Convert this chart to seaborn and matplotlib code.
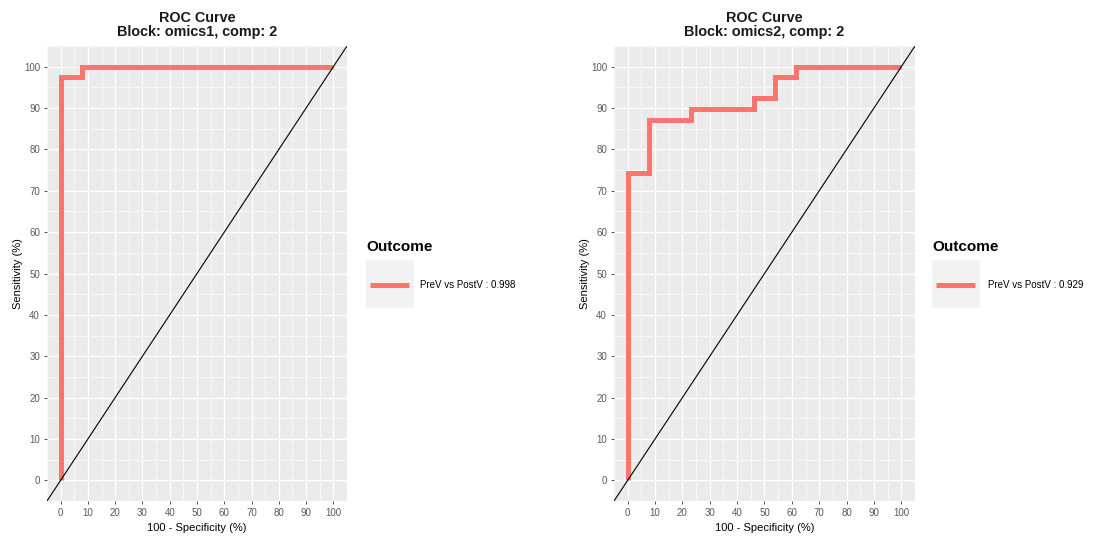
import numpy as np
import pandas as pd
import matplotlib
matplotlib.use("Agg")
import matplotlib.pyplot as plt
import seaborn as sns
from matplotlib.patches import Rectangle
from matplotlib.lines import Line2D
from matplotlib.ticker import MultipleLocator

# ROC corner points (100 - specificity, sensitivity)
fpr_omics1 = [0, 0, 7.69, 7.69, 100]
tpr_omics1 = [0, 97.44, 97.44, 100, 100]
fpr_omics2 = [0, 0, 7.69, 7.69, 23.08, 23.08, 46.15, 46.15, 53.85, 53.85, 61.54, 61.54, 100]
tpr_omics2 = [0, 74.36, 74.36, 87.18, 87.18, 89.74, 89.74, 92.31, 92.31, 97.44, 97.44, 100, 100]
blocks = ["omics1", "omics2"]
legend_labels = ["PreV vs PostV : 0.998", "PreV vs PostV : 0.929"]
ticks = list(range(0, 101, 10))

sns.set_theme(style="darkgrid")
plt.rcParams['font.family'] = ['Liberation Sans', 'DejaVu Sans']

W, H = 1099, 539
fig = plt.figure(figsize=(W / 100, H / 100), dpi=100)
fig.patch.set_facecolor("white")

RED = "#F8766D"
panels = [
    dict(left=47, right=347, fpr=fpr_omics1, tpr=tpr_omics1, block=blocks[0], lab=legend_labels[0],
         box_x=366, text_x=420),
    dict(left=614, right=915, fpr=fpr_omics2, tpr=tpr_omics2, block=blocks[1], lab=legend_labels[1],
         box_x=932, text_x=988),
]
top_px, bot_px = 46, 501

for p in panels:
    ax = fig.add_axes([p["left"] / W, (H - bot_px) / H, (p["right"] - p["left"]) / W, (bot_px - top_px) / H])
    ax.set_facecolor("#EBEBEB")
    df = pd.DataFrame({"fpr": p["fpr"], "tpr": p["tpr"]})
    sns.lineplot(data=df, x="fpr", y="tpr", sort=False, estimator=None, color=RED, lw=3.6, ax=ax,
                 solid_capstyle="butt", solid_joinstyle="miter", zorder=3)
    ax.axline((0, 0), slope=1, color="black", lw=0.8, zorder=4)
    ax.set_xlim(-5, 105)
    ax.set_ylim(-5, 105)
    ax.set_xticks(ticks)
    ax.set_yticks(ticks)
    ax.xaxis.set_minor_locator(MultipleLocator(5))
    ax.yaxis.set_minor_locator(MultipleLocator(5))
    ax.grid(which="major", color="white", lw=0.9)
    ax.grid(which="minor", color="white", lw=0.45)
    ax.set_axisbelow(True)
    for s in ax.spines.values():
        s.set_visible(False)
    ax.tick_params(which="major", length=2.5, width=0.6, color="#333333", labelsize=7,
                   labelcolor="#5A5A5A", pad=2.5, bottom=True, left=True)
    ax.tick_params(which="minor", length=0)
    ax.set_xlabel("100 - Specificity (%)", fontsize=8, color="black", labelpad=3.5)
    ax.set_ylabel("Sensitivity (%)", fontsize=8, color="black", labelpad=1)
    ax.set_title("ROC Curve\nBlock: %s, comp: 2" % p["block"], fontsize=10.4, fontweight="bold",
                 color="#1A1A1A", pad=7, linespacing=1.0)

    # legend (ggplot style)
    bx = p["box_x"]
    fig.text(bx / W, 1 - 247 / H, "Outcome", fontsize=11, fontweight="bold", va="center", ha="left",
             color="black")
    fig.add_artist(Rectangle((bx / W, 1 - 308 / H), 48 / W, 48 / H, transform=fig.transFigure,
                             facecolor="#F2F2F2", edgecolor="none"))
    fig.add_artist(Line2D([(bx + 4) / W, (bx + 43) / W], [1 - 285 / H, 1 - 285 / H],
                          transform=fig.transFigure, color=RED, lw=3.6, solid_capstyle="butt"))
    fig.text(p["text_x"] / W, 1 - 285 / H, p["lab"], fontsize=7, va="center", ha="left", color="black")

fig.savefig("out.png", dpi=100)
